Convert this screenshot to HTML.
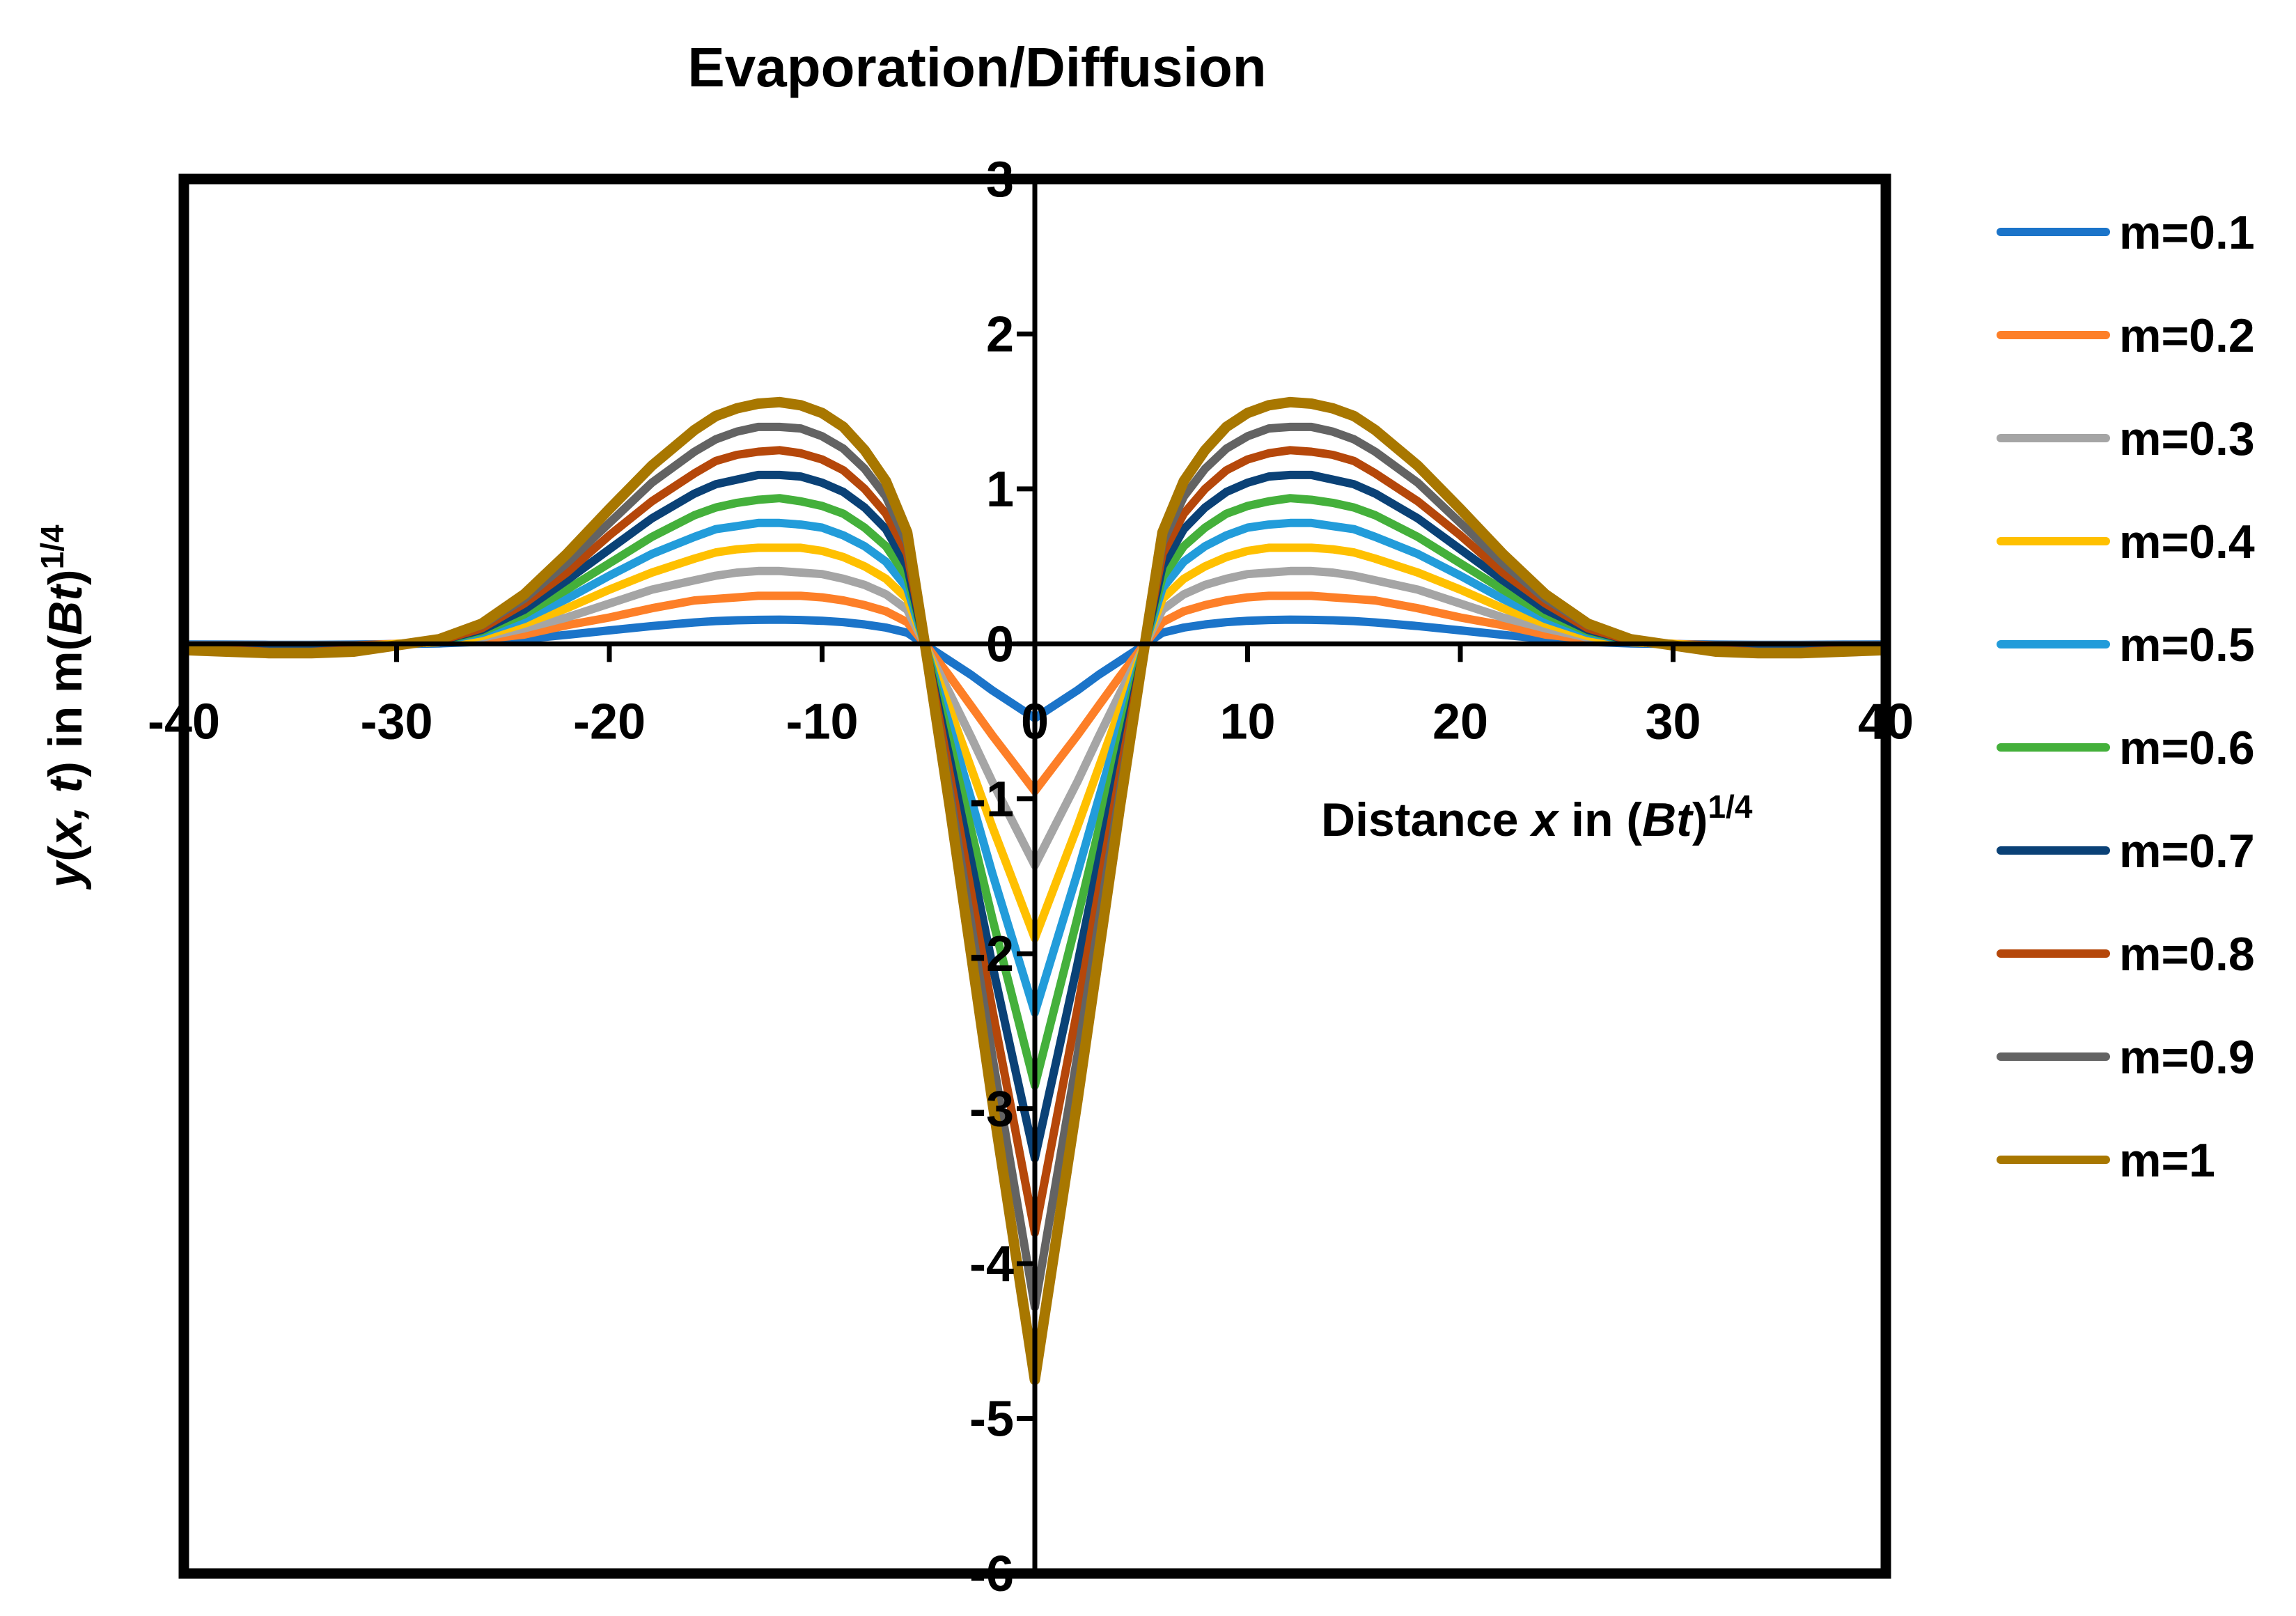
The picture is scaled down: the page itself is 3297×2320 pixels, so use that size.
<!DOCTYPE html>
<html><head><meta charset="utf-8"><style>
html,body{margin:0;padding:0;background:#fff;}
svg{display:block;font-family:"Liberation Sans",sans-serif;}
</style></head><body>
<svg id="chart" width="3297" height="2320" viewBox="0 0 3297 2320" xmlns="http://www.w3.org/2000/svg">
<rect x="0" y="0" width="3297" height="2320" fill="#fff"/>
<text x="1403" y="124" text-anchor="middle" font-size="80" font-weight="bold">Evaporation/Diffusion</text>
<g id="series"></g>
<g id="axes"></g>
<rect x="264" y="257" width="2444" height="2002" fill="none" stroke="#000" stroke-width="15"/>
<text x="1897" y="1200" font-size="68" font-weight="bold">Distance <tspan font-style="italic">x</tspan> in (<tspan font-style="italic">Bt</tspan>)<tspan font-size="46" dy="-26">1/4</tspan></text>
<text transform="translate(117,1014) rotate(-90)" text-anchor="middle" font-size="68" font-weight="bold"><tspan font-style="italic">y</tspan>(<tspan font-style="italic">x, t</tspan>) in m(<tspan font-style="italic">Bt</tspan>)<tspan font-size="46" dy="-26">1/4</tspan></text>
<g id="legend"></g>
</svg>
<script>
const xValues = [0,1,2,3,4,5,6,7,8,9,10,11,12,13,14,15,16,18,20,22,24,26,28,30,32,34,36,38,40];
const seriesNames = ["m=0.1","m=0.2","m=0.3","m=0.4","m=0.5","m=0.6","m=0.7","m=0.8","m=0.9","m=1"];
const s01 = [-0.48,-0.39,-0.30,-0.20,-0.11,-0.02,0.072,0.105,0.125,0.140,0.149,0.154,0.156,0.155,0.152,0.147,0.138,0.115,0.087,0.058,0.032,0.013,0.003,-0.001,-0.005,-0.006,-0.006,-0.005,-0.004];
const s02 = [-0.95,-0.77,-0.59,-0.40,-0.21,-0.03,0.14,0.21,0.25,0.28,0.30,0.31,0.31,0.31,0.30,0.29,0.28,0.23,0.17,0.12,0.06,0.03,0.01,0.00,-0.01,-0.01,-0.01,-0.01,-0.01];
const s03 = [-1.43,-1.16,-0.89,-0.60,-0.32,-0.05,0.22,0.32,0.38,0.42,0.45,0.46,0.47,0.47,0.46,0.44,0.41,0.35,0.26,0.17,0.10,0.04,0.01,0.00,-0.02,-0.02,-0.02,-0.02,-0.01];
const s04 = [-1.90,-1.54,-1.18,-0.80,-0.42,-0.06,0.29,0.42,0.50,0.56,0.60,0.62,0.62,0.62,0.61,0.59,0.55,0.46,0.35,0.23,0.13,0.05,0.01,0.00,-0.02,-0.02,-0.02,-0.02,-0.02];
const s05 = [-2.38,-1.93,-1.48,-1.00,-0.53,-0.08,0.36,0.53,0.63,0.70,0.75,0.77,0.78,0.78,0.76,0.74,0.69,0.58,0.44,0.29,0.16,0.07,0.02,-0.01,-0.03,-0.03,-0.03,-0.03,-0.02];
const s06 = [-2.85,-2.31,-1.77,-1.20,-0.63,-0.09,0.43,0.63,0.75,0.84,0.89,0.92,0.94,0.93,0.91,0.88,0.83,0.69,0.52,0.35,0.19,0.08,0.02,-0.01,-0.03,-0.04,-0.04,-0.03,-0.02];
const s07 = [-3.32,-2.70,-2.07,-1.40,-0.74,-0.11,0.50,0.74,0.88,0.98,1.04,1.08,1.09,1.09,1.06,1.03,0.97,0.81,0.61,0.41,0.22,0.09,0.02,-0.01,-0.04,-0.04,-0.04,-0.04,-0.03];
const s08 = [-3.80,-3.08,-2.36,-1.60,-0.84,-0.12,0.58,0.84,1.00,1.12,1.19,1.23,1.25,1.24,1.22,1.18,1.10,0.92,0.70,0.46,0.26,0.10,0.02,-0.01,-0.04,-0.05,-0.05,-0.04,-0.03];
const s09 = [-4.28,-3.47,-2.66,-1.80,-0.95,-0.14,0.65,0.95,1.13,1.26,1.34,1.39,1.40,1.40,1.37,1.32,1.24,1.04,0.78,0.52,0.29,0.12,0.03,-0.01,-0.05,-0.05,-0.05,-0.05,-0.04];
const s10 = [-4.75,-3.85,-2.95,-2.00,-1.05,-0.15,0.72,1.05,1.25,1.40,1.49,1.54,1.56,1.55,1.52,1.47,1.38,1.15,0.87,0.58,0.32,0.13,0.03,-0.01,-0.05,-0.06,-0.06,-0.05,-0.04];
const xTicks = [-40,-30,-20,-10,0,10,20,30,40];
const yTicks = [3,2,1,0,-1,-2,-3,-4,-5,-6];

const allSeries = [s01,s02,s03,s04,s05,s06,s07,s08,s09,s10];
const colors = ["#1B74C9","#FD7F28","#A5A5A5","#FFC000","#229CDA","#44B03B","#0A4176","#B5470A","#636363","#A87700"];
const NS = "http://www.w3.org/2000/svg";
const L=264, R=2708, T=257, B=2259;
const xS = v => L + (v + 40) / 80 * (R - L);
const yS = v => T + (3 - v) / 9 * (B - T);

const sg = document.getElementById('series');
allSeries.forEach((s, i) => {
  const pts = [];
  for (let k = xValues.length - 1; k >= 1; k--) pts.push([-xValues[k], s[k]]);
  for (let k = 0; k < xValues.length; k++) pts.push([xValues[k], s[k]]);
  const p = document.createElementNS(NS, 'path');
  p.setAttribute('d', pts.map((q, j) => (j ? 'L' : 'M') + xS(q[0]).toFixed(1) + ' ' + yS(q[1]).toFixed(1)).join(' '));
  p.setAttribute('fill', 'none');
  p.setAttribute('stroke', colors[i]);
  p.setAttribute('stroke-width', i === 9 ? 15 : 12);
  p.setAttribute('stroke-linejoin', 'round');
  p.setAttribute('stroke-linecap', 'round');
  
  
  sg.appendChild(p);
});

const ag = document.getElementById('axes');
function mk(tag, attrs) { const e = document.createElementNS(NS, tag); for (const k in attrs) e.setAttribute(k, attrs[k]); ag.appendChild(e); return e; }
const xAxis = mk('line', {x1: L, x2: R, y1: yS(0), y2: yS(0), stroke: '#000', 'stroke-width': 7});


const yAxis = mk('line', {x1: xS(0), x2: xS(0), y1: T, y2: B, stroke: '#000', 'stroke-width': 7});


xTicks.forEach(t => {
  const tk = mk('line', {x1: xS(t), x2: xS(t), y1: yS(0), y2: yS(0) + 26, stroke: '#000', 'stroke-width': 7});
  
  
  const tx = mk('text', {x: xS(t), y: yS(0) + 136, 'text-anchor': 'middle', 'font-size': 72, 'font-weight': 'bold'});
  tx.textContent = t;
  
  
});
yTicks.forEach(t => {
  const tk = mk('line', {x1: xS(0) - 26, x2: xS(0), y1: yS(t), y2: yS(t), stroke: '#000', 'stroke-width': 7});
  
  
  const tx = mk('text', {x: xS(0) - 30, y: yS(t) + 25, 'text-anchor': 'end', 'font-size': 72, 'font-weight': 'bold'});
  tx.textContent = t;
  
  
});

const lg = document.getElementById('legend');
seriesNames.forEach((n, i) => {
  const y = 333 + i * 148;
  const g = document.createElementNS(NS, 'g');
  
  
  const l = document.createElementNS(NS, 'line');
  l.setAttribute('x1', 2873); l.setAttribute('x2', 3024); l.setAttribute('y1', y); l.setAttribute('y2', y);
  l.setAttribute('stroke', colors[i]); l.setAttribute('stroke-width', 12); l.setAttribute('stroke-linecap', 'round');
  
  
  const t = document.createElementNS(NS, 'text');
  t.setAttribute('x', 3043); t.setAttribute('y', y + 24);
  t.setAttribute('font-size', 68); t.setAttribute('font-weight', 'bold');
  t.textContent = n;
  
  
  g.appendChild(l); g.appendChild(t); lg.appendChild(g);
});
</script>
</body></html>
